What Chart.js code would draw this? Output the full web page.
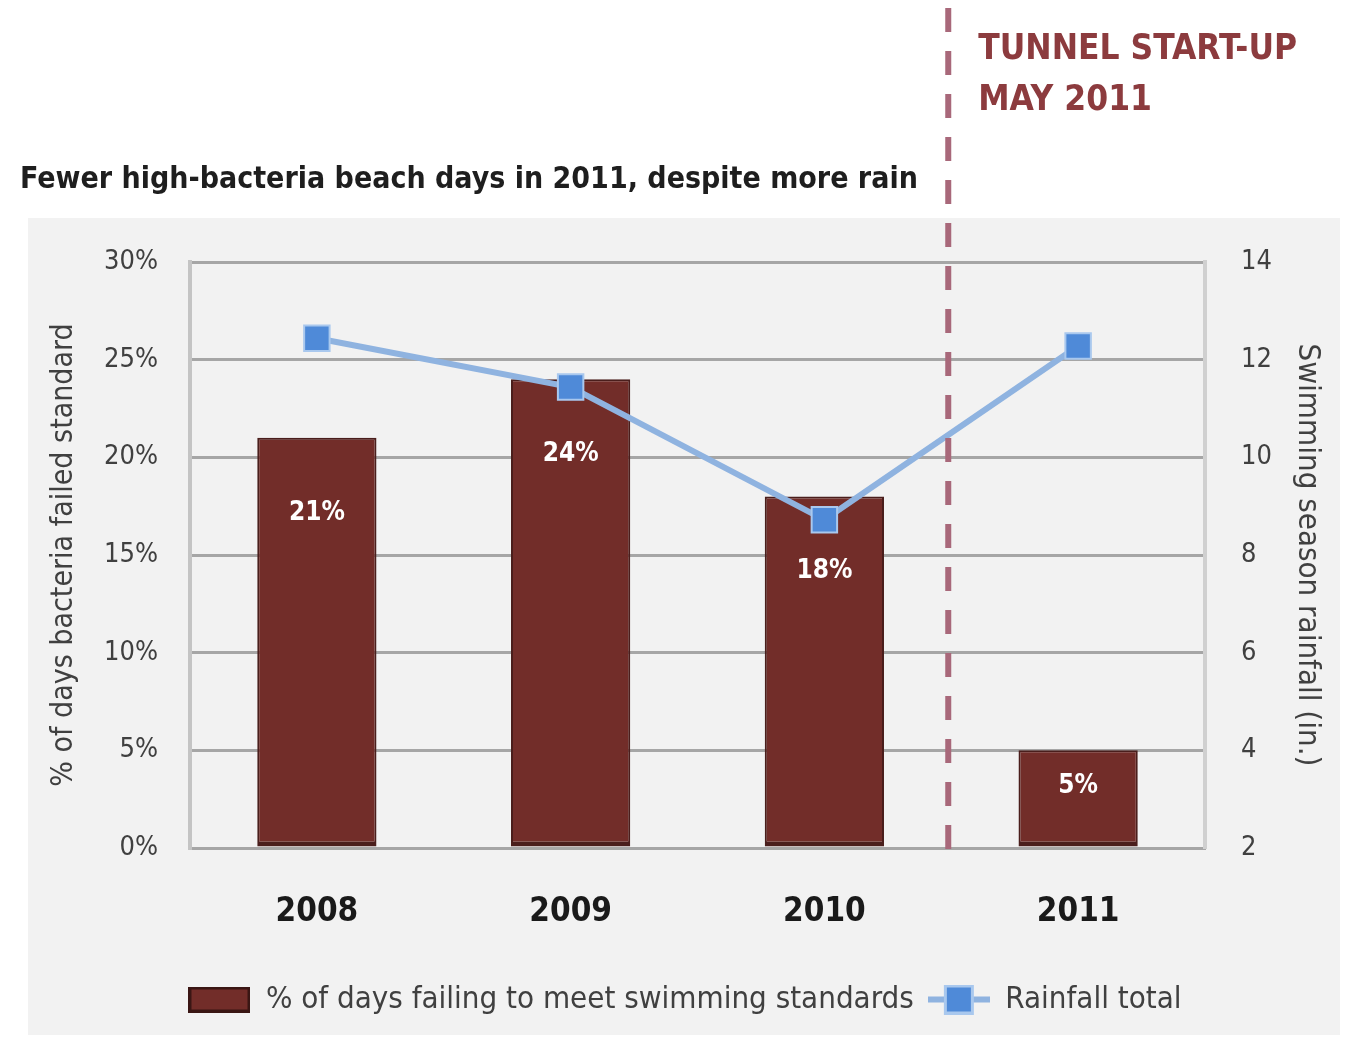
<!DOCTYPE html>
<html>
<head>
<meta charset="utf-8">
<script src="https://cdn.jsdelivr.net/npm/chart.js@4.4.1/dist/chart.umd.min.js"></script>
<style>
  html, body { margin: 0; padding: 0; background: #fff; }
  #wrap { width: 1345px; height: 1037px; position: relative; }
</style>
</head>
<body>
<div id="wrap"><canvas id="beachChart" width="1345" height="1037"></canvas></div>
<script>
var years = ['2008', '2009', '2010', '2011'];
var pctFailing = [21, 24, 18, 5];          // % of days failing swimming standards
var rainfall = [12.44, 11.44, 8.72, 12.28]; // swimming season rainfall, inches

var FONT = '"Liberation Sans Narrow", "DejaVu Sans Condensed", "Open Sans", sans-serif';
var barColor = '#722d29';
var lineColor = '#8fb3e0';
var markerColor = '#4f8ad8';

// little pictures for the legend swatches
function swatchBar() {
  var c = document.createElement('canvas');
  c.width = 62; c.height = 26;
  var g = c.getContext('2d');
  g.fillStyle = '#3a1614';
  g.fillRect(0, 0, 62, 26);
  g.fillStyle = barColor;
  g.fillRect(3, 3, 56, 20);
  return c;
}
function swatchLine() {
  var c = document.createElement('canvas');
  c.width = 62; c.height = 30;
  var g = c.getContext('2d');
  g.fillStyle = lineColor;
  g.fillRect(0, 12, 62, 6);
  g.fillStyle = '#a9c8ee';
  g.fillRect(16, 0, 30, 30);
  g.fillStyle = markerColor;
  g.fillRect(19, 3, 24, 24);
  return c;
}

var backdrop = {
  id: 'backdrop',
  beforeDraw: function(chart) {
    var ctx = chart.ctx;
    ctx.save();
    ctx.fillStyle = '#ffffff';
    ctx.fillRect(0, 0, chart.width, chart.height);
    ctx.fillStyle = '#f2f2f2';
    ctx.fillRect(28, 218, 1312, 817);
    ctx.restore();
  },
  afterDraw: function(chart) {
    var ctx = chart.ctx;
    var x = chart.scales.x.getPixelForValue(2.5) - 3;
    ctx.save();
    // tunnel start-up marker
    ctx.strokeStyle = '#a8687a';
    ctx.lineWidth = 6;
    ctx.setLineDash([24, 19]);
    ctx.beginPath();
    ctx.moveTo(x, 8);
    ctx.lineTo(x, chart.chartArea.bottom + 8);
    ctx.stroke();
    ctx.setLineDash([]);
    ctx.fillStyle = '#8c3b3e';
    ctx.font = 'bold 35px ' + FONT;
    ctx.textBaseline = 'middle';
    ctx.fillText('TUNNEL START-UP', x + 30, 50);
    ctx.fillText('MAY 2011', x + 30, 101);
    // heading
    ctx.fillStyle = '#1e1e1e';
    ctx.font = 'bold 30px ' + FONT;
    ctx.fillText('Fewer high-bacteria beach days in 2011, despite more rain', 20, 180);
    ctx.restore();
  }
};

var barLabels = {
  id: 'barLabels',
  afterDatasetsDraw: function(chart) {
    var ctx = chart.ctx;
    var meta = chart.getDatasetMeta(1);
    ctx.save();
    ctx.fillStyle = '#ffffff';
    ctx.font = 'bold 26px ' + FONT;
    ctx.textAlign = 'center';
    ctx.textBaseline = 'middle';
    meta.data.forEach(function(bar, i) {
      var y = Math.min(bar.y + 75, (bar.y + bar.base) / 2 - 12);
      ctx.fillText(pctFailing[i] + '%', bar.x, y);
    });
    ctx.restore();
  }
};

var ctx = document.getElementById('beachChart').getContext('2d');
new Chart(ctx, {
  data: {
    labels: years,
    datasets: [{
      type: 'line',
      label: 'Rainfall total',
      data: rainfall,
      yAxisID: 'yRain',
      borderColor: lineColor,
      borderWidth: 6,
      pointStyle: 'rect',
      pointRadius: 18,
      pointBackgroundColor: markerColor,
      pointBorderColor: '#a9c8ee',
      pointBorderWidth: 2,
      tension: 0,
      order: 0
    }, {
      type: 'bar',
      label: '% of days failing to meet swimming standards',
      data: pctFailing,
      yAxisID: 'y',
      backgroundColor: barColor,
      borderColor: '#4a1e1c',
      borderWidth: { top: 2, left: 2, right: 2, bottom: 5 },
      borderSkipped: false,
      barPercentage: 0.47,
      categoryPercentage: 1,
      order: 1
    }]
  },
  options: {
    responsive: false,
    animation: false,
    layout: { padding: { top: 262, left: 30, right: 5, bottom: 12 } },
    plugins: {
      title: { display: false },
      tooltip: { enabled: false },
      legend: {
        position: 'bottom',
        labels: {
          usePointStyle: true,
          pointStyleWidth: 62,
          color: '#404040',
          font: { family: FONT, size: 31 },
          padding: 14,
          generateLabels: function(chart) {
            return [{
              text: '% of days failing to meet swimming standards',
              pointStyle: swatchBar(), datasetIndex: 1, lineWidth: 0, fontColor: '#404040'
            }, {
              text: 'Rainfall total',
              pointStyle: swatchLine(), datasetIndex: 0, lineWidth: 0, fontColor: '#404040'
            }];
          }
        }
      }
    },
    scales: {
      x: {
        grid: { display: false },
        border: { color: '#a6a6a6', width: 3 },
        ticks: { color: '#1a1a1a', font: { family: FONT, size: 33, weight: 'bold' }, padding: 37 },
        afterFit: function(s) { s.height = 122; }
      },
      y: {
        position: 'left',
        min: 0, max: 30,
        ticks: {
          stepSize: 5,
          color: '#404040',
          padding: 32,
          font: { family: FONT, size: 27 },
          callback: function(v) { return v + '%'; }
        },
        grid: { color: '#a6a6a6', lineWidth: 3, drawTicks: false },
        border: { color: '#c4c4c4', width: 4 },
        title: {
          display: true,
          text: '% of days bacteria failed standard',
          color: '#404040',
          font: { family: FONT, size: 30 },
          padding: { top: 16, bottom: 0 }
        },
        afterFit: function(s) { s.width = 160; }
      },
      yRain: {
        position: 'right',
        min: 2, max: 14,
        ticks: { stepSize: 2, color: '#404040', padding: 36, font: { family: FONT, size: 27 } },
        grid: { display: false, drawTicks: false },
        border: { color: '#d0d0d0', width: 4 },
        title: {
          display: true,
          text: 'Swimming season rainfall (in.)',
          color: '#404040',
          font: { family: FONT, size: 31 },
          padding: { top: 14, bottom: 0 }
        },
        afterFit: function(s) { s.width = 135; }
      }
    }
  },
  plugins: [backdrop, barLabels]
});
</script>
</body>
</html>
